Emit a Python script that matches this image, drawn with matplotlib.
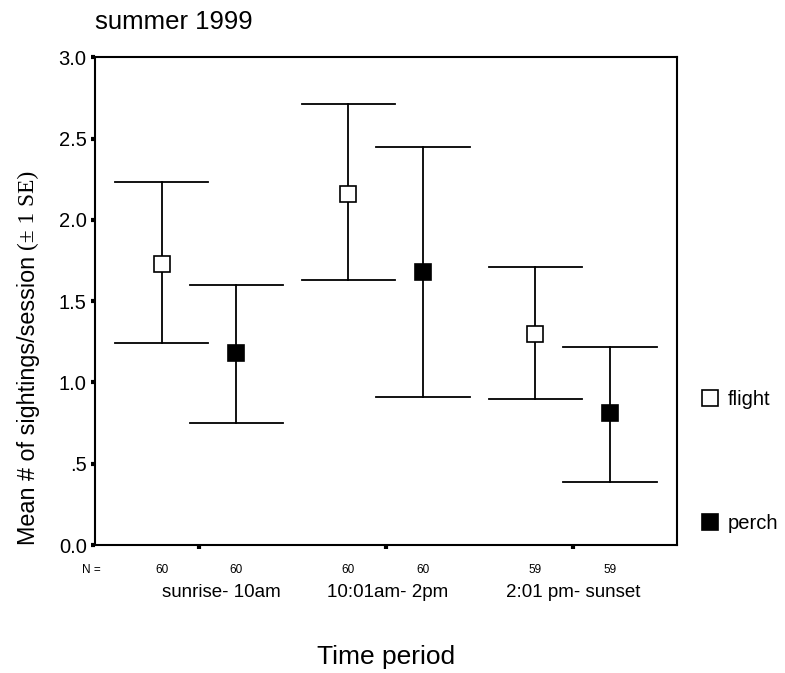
#!/usr/bin/env python3
"""
Mean sightings per session by time period, summer 1999
"""
import matplotlib.pyplot as plt
from matplotlib.lines import Line2D

periods = ["sunrise- 10am", "10:01am- 2pm", "2:01 pm- sunset"]
n_flight = [60, 60, 59]
n_perch = [60, 60, 59]

flight_mean = [1.73, 2.16, 1.30]
flight_low = [1.24, 1.63, 0.90]
flight_high = [2.23, 2.71, 1.71]

perch_mean = [1.18, 1.68, 0.81]
perch_low = [0.75, 0.91, 0.39]
perch_high = [1.60, 2.45, 1.22]

yticks = [0.0, 0.5, 1.0, 1.5, 2.0, 2.5, 3.0]
ytick_labels = ["0.0", ".5", "1.0", "1.5", "2.0", "2.5", "3.0"]

sans = "Liberation Sans"
serif = "Liberation Serif"
plt.rcParams['font.family'] = [sans, 'DejaVu Sans']

fig = plt.figure(figsize=(7.85, 6.73), dpi=100)
ax = fig.add_axes([0.121, 0.190, 0.741, 0.725])

centers = [1, 2, 3]
off = 0.2
cap = 0.25


def draw_series(xs, mean, low, high, face):
    for x, m, lo, hi in zip(xs, mean, low, high):
        ax.plot([x, x], [lo, hi], color='black', lw=1.3, zorder=2)
        ax.plot([x - cap, x + cap], [lo, lo], color='black', lw=1.3, zorder=2)
        ax.plot([x - cap, x + cap], [hi, hi], color='black', lw=1.3, zorder=2)
    ax.plot(xs, mean, ls='none', marker='s', ms=11, mfc=face, mec='black',
            mew=1.2, zorder=3)


xf = [c - off for c in centers]
xp = [c + off for c in centers]
draw_series(xf, flight_mean, flight_low, flight_high, 'white')
draw_series(xp, perch_mean, perch_low, perch_high, 'black')

ax.set_xlim(0.444, 3.556)
ax.set_ylim(0, 3.0)
ax.set_yticks(yticks)
ax.set_yticklabels(ytick_labels, fontsize=14.5)
ax.set_xticks(centers)
ax.set_xticklabels([])
ax.tick_params(axis='both', direction='out', length=3, width=3, color='black')
ax.tick_params(axis='y', pad=3)
for s in ax.spines.values():
    s.set_linewidth(1.5)

# N counts under the axis
ax.text(0.475, -0.05, "N =", transform=ax.get_xaxis_transform(),
        ha='right', va='center', fontsize=8.5)
for x, n in zip(xf, n_flight):
    ax.text(x, -0.05, str(n), transform=ax.get_xaxis_transform(),
            ha='center', va='center', fontsize=8.5)
for x, n in zip(xp, n_perch):
    ax.text(x, -0.05, str(n), transform=ax.get_xaxis_transform(),
            ha='center', va='center', fontsize=8.5)

# category labels (the first one sits a bit right of its tick, as in the original)
label_shift = [0.12, 0.01, 0.0]
for c, lab, dx in zip(centers, periods, label_shift):
    ax.text(c + dx, -0.097, lab, transform=ax.get_xaxis_transform(),
            ha='center', va='center', fontsize=13.5)

fig.text(0.492, 0.024, "Time period", ha='center', va='center', fontsize=19)
fig.text(0.121, 0.968, "summer 1999", ha='left', va='center', fontsize=18.5)

# y label: sans part + serif part
t1 = fig.text(0.036, 0.190, "Mean # of sightings/session ", rotation=90,
              ha='center', va='bottom', fontsize=16.8)
fig.canvas.draw()
bb = t1.get_window_extent()
y2 = bb.y1 / fig.bbox.height
fig.text(0.036, y2, "(\u00b1 1 SE)", rotation=90, ha='center', va='bottom',
         fontsize=16.8, family=[serif, 'DejaVu Serif'])

handles = [
    Line2D([], [], ls='none', marker='s', ms=11, mfc='white', mec='black', mew=1.2),
    Line2D([], [], ls='none', marker='s', ms=11, mfc='black', mec='black', mew=1.2),
]
fig.legend(handles, ["flight", "perch"], loc='upper left',
           bbox_to_anchor=(0.868, 0.447), frameon=False, fontsize=14.5,
           labelspacing=5.2, handletextpad=0.4, handlelength=1.0)

fig.savefig('out.png', dpi=100)
